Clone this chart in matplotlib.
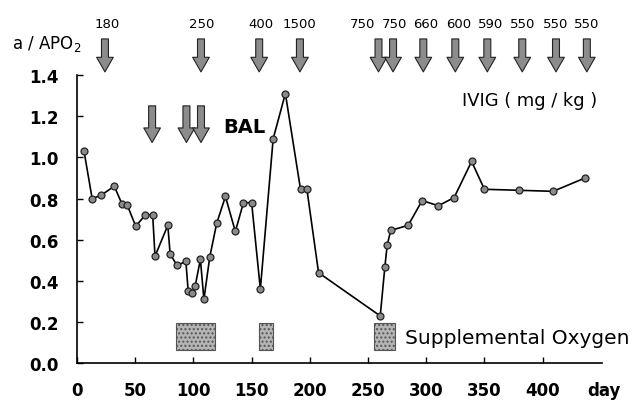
import matplotlib
matplotlib.use("Agg")
import matplotlib.pyplot as plt
from matplotlib.patches import Rectangle

# a/APO2 measurements (day, ratio)
days = [6, 13, 20.5, 32, 38.5, 43, 50.5, 58.5, 65, 67, 78, 80, 86, 93.5,
        95.5, 98.5, 101.5, 106, 109, 114, 120, 127.5, 136, 143, 150, 157.5,
        168.5, 179, 192, 197.5, 207.5, 260.5, 264.5, 266.5, 269.5, 284.5,
        296.5, 310.5, 324, 339, 350, 380, 409, 436.5]
ratio = [1.03, 0.80, 0.815, 0.86, 0.775, 0.77, 0.665, 0.72, 0.72, 0.52, 0.67,
         0.53, 0.475, 0.495, 0.35, 0.34, 0.375, 0.505, 0.31, 0.515, 0.68,
         0.81, 0.64, 0.78, 0.78, 0.36, 1.09, 1.31, 0.845, 0.845, 0.44, 0.23,
         0.47, 0.575, 0.645, 0.67, 0.79, 0.765, 0.805, 0.98, 0.845, 0.84,
         0.835, 0.90]

# IVIG doses (arrows on top)
ivig_days = [24, 106.5, 156.5, 191.5, 259, 271.5, 297.5, 325, 352.5, 382.5, 411.5, 438]
ivig_label_days = [26, 107.5, 158, 191.5, 245.5, 272.5, 299.5, 327.5, 355.5, 383, 411.5, 438]
ivig_dose = ["180", "250", "400", "1500", "750", "750", "660", "600", "590", "550", "550", "550"]

# BAL arrows
bal_days = [64.5, 94, 106.5]

# supplemental oxygen periods (start, end)
oxy_start = [85, 156, 255.5]
oxy_end = [118.5, 168, 273]

fig = plt.figure(figsize=(6.35, 4.02), dpi=100)
ax = fig.add_axes([0.1213, 0.0938, 0.8267, 0.7172])

ax.plot(days, ratio, color="black", lw=1.2, zorder=3)
ax.plot(days, ratio, "o", ms=5, mfc="#8a8a8a", mec="#222222", mew=0.9, zorder=4)

for s, e in zip(oxy_start, oxy_end):
    ax.add_patch(Rectangle((s, 0.065), e - s, 0.13, fc="#b5b5b5", ec="#555555",
                           lw=0.8, hatch="....", zorder=2))

arrow = dict(arrowstyle="simple,head_width=1.2,head_length=1.05,tail_width=0.5",
             fc="#8c8c8c", ec="#222222", lw=0.8, shrinkA=0, shrinkB=0)

for d in ivig_days:
    ax.annotate("", xy=(d, 1.415), xytext=(d, 1.575), arrowprops=arrow,
                annotation_clip=False)
for d, lab in zip(ivig_label_days, ivig_dose):
    ax.text(d, 1.648, lab, ha="center", va="center", fontsize=9.5, clip_on=False)

for d in bal_days:
    ax.annotate("", xy=(d, 1.072), xytext=(d, 1.25), arrowprops=arrow,
                annotation_clip=False)

ax.text(126, 1.15, "BAL", fontsize=14, fontweight="bold", ha="left", va="center")
ax.text(331, 1.28, "IVIG ( mg / kg )", fontsize=12.9, ha="left", va="center")
ax.text(282, 0.127, "Supplemental Oxygen", fontsize=14.5, ha="left", va="center")
ax.text(-56, 1.556, "a / APO$_2$", fontsize=12, ha="left", va="center", clip_on=False)
ax.text(438, -0.13, "day", fontsize=12, fontweight="bold", ha="left", va="center",
        clip_on=False)

ax.set_xlim(0, 451)
ax.set_ylim(0, 1.4)
ax.set_xticks(range(0, 401, 50))
ax.set_yticks([0.0, 0.2, 0.4, 0.6, 0.8, 1.0, 1.2, 1.4])
ax.set_yticklabels([f"{v:.1f}" for v in ax.get_yticks()])
ax.tick_params(direction="in", length=4, width=1, labelsize=12, pad=13)
for lab in ax.get_xticklabels() + ax.get_yticklabels():
    lab.set_fontweight("bold")
ax.spines["top"].set_visible(False)
ax.spines["right"].set_visible(False)
ax.spines["left"].set_linewidth(1.2)
ax.spines["bottom"].set_linewidth(1.2)

fig.savefig("out.png", dpi=100)
